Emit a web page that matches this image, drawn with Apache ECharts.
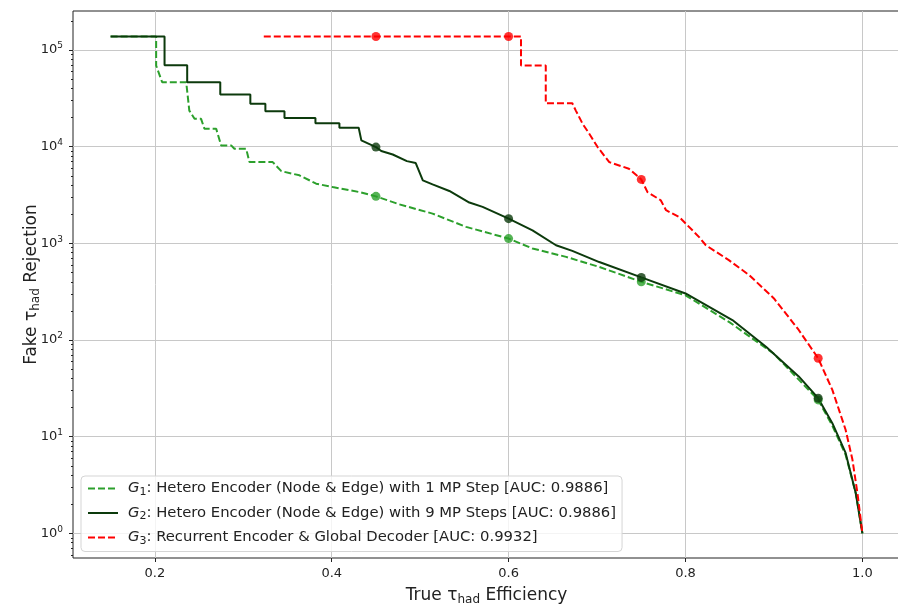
<!DOCTYPE html>
<html>
<head>
<meta charset="utf-8">
<script src="https://cdn.jsdelivr.net/npm/echarts@6/dist/echarts.min.js"></script>
<style>
    html, body { margin: 0; padding: 0; background: #fff; }
    #chart { width: 898px; height: 605px; }
</style>
</head>
<body>
<div id="chart"></div>
<script>
// values: [efficiency, rejection]
var g1Curve = [
    [0.15, 1.38e5], [0.2015, 1.38e5], [0.2015, 6.9e4], [0.2083, 4.64e4], [0.2355, 4.64e4],
    [0.239, 2.36e4], [0.2449, 1.94e4], [0.2523, 1.94e4], [0.2561, 1.53e4], [0.2694, 1.53e4],
    [0.275, 1.03e4], [0.2863, 1.03e4], [0.29, 9.5e3], [0.3033, 9.5e3], [0.307, 6.92e3],
    [0.3333, 6.92e3], [0.343, 5.58e3], [0.3635, 5.05e3],
    [0.3824, 4.14e3], [0.401, 3.82e3], [0.4313, 3.39e3], [0.45, 3.06e3], [0.4765, 2.53e3],
    [0.514, 2.03e3], [0.5519, 1.48e3], [0.6, 1.12e3], [0.627, 884], [0.665, 724],
    [0.7025, 570], [0.75, 400], [0.8, 290], [0.85, 152], [0.9, 72], [0.95, 24],
    [0.966, 13], [0.981, 6.5], [0.9925, 2.6], [1.0, 1.0]
];
var g2Curve = [
    [0.15, 1.38e5], [0.211, 1.38e5], [0.211, 6.93e4], [0.2366, 6.93e4], [0.2366, 4.64e4],
    [0.274, 4.64e4], [0.274, 3.46e4], [0.308, 3.46e4], [0.308, 2.77e4], [0.325, 2.77e4],
    [0.325, 2.32e4], [0.3466, 2.32e4], [0.3466, 1.98e4], [0.3816, 1.98e4], [0.3816, 1.75e4],
    [0.4087, 1.75e4], [0.4087, 1.57e4], [0.4305, 1.57e4], [0.4335, 1.16e4], [0.45, 9.9e3],
    [0.456, 9.0e3], [0.469, 8.3e3], [0.485, 7.08e3], [0.495, 6.76e3], [0.503, 4.48e3],
    [0.514, 4.07e3], [0.533, 3.48e3], [0.5556, 2.64e3], [0.5706, 2.38e3], [0.6, 1.8e3],
    [0.627, 1.36e3], [0.6536, 955], [0.672, 836], [0.7025, 640], [0.75, 444],
    [0.8, 303], [0.853, 161], [0.891, 85], [0.928, 42], [0.95, 25],
    [0.966, 13.8], [0.981, 6.8], [0.9925, 2.6], [1.0, 1.0]
];
var g3Curve = [
    [0.3232, 1.38e5], [0.614, 1.38e5], [0.614, 6.9e4], [0.642, 6.9e4], [0.642, 2.81e4],
    [0.672, 2.81e4], [0.676, 2.36e4], [0.6837, 1.72e4], [0.6912, 1.36e4], [0.7006, 9.9e3],
    [0.7138, 6.92e3], [0.736, 5.91e3], [0.75, 4.58e3], [0.757, 3.39e3], [0.772, 2.79e3],
    [0.778, 2.2e3], [0.793, 1.87e3], [0.8154, 1.16e3], [0.823, 955], [0.849, 670],
    [0.872, 469], [0.9, 269], [0.928, 127], [0.95, 64.7], [0.966, 30.5],
    [0.981, 11.8], [0.9887, 5.8], [0.9944, 2.6], [1.0, 1.0]
];
var g1Marks = [[0.45, 3.06e3], [0.6, 1.12e3], [0.75, 400], [0.95, 24]];
var g2Marks = [[0.45, 9.9e3], [0.6, 1.8e3], [0.75, 444], [0.95, 25]];
var g3Marks = [[0.45, 1.38e5], [0.6, 1.38e5], [0.75, 4.58e3], [0.95, 64.7]];

var seriesNames = [
    '{i|G}{sub|1}: Hetero Encoder (Node & Edge) with 1 MP Step [AUC: 0.9886]',
    '{i|G}{sub|2}: Hetero Encoder (Node & Edge) with 9 MP Steps [AUC: 0.9886]',
    '{i|G}{sub|3}: Recurrent Encoder & Global Decoder [AUC: 0.9932]'
];
var colors = ['#2ca02c', '#0c3a0c', '#ff0000'];
var xTicks = [0.2, 0.4, 0.6, 0.8, 1.0];
var yTicks = [1, 10, 100, 1000, 10000, 100000];
var yMinorTicks = [];
for (var d = 0.1; d < 1e6; d *= 10) {
    for (var m = 2; m <= 9; m++) {
        var v = Math.round(d * m * 1000) / 1000;
        if (v > 0.556 && v < 2.5e5) yMinorTicks.push(v);
    }
}

var FONT = 'DejaVu Sans';
var dashed = [7, 3];

function lineSeries(idx, data, dash) {
    return {
        name: seriesNames[idx],
        type: 'line',
        data: data,
        symbol: 'none',
        color: colors[idx],
        lineStyle: { color: colors[idx], width: 2, type: dash ? dashed : 'solid' },
        z: 3 + idx,
        animation: false
    };
}

function markSeries(idx, data) {
    return {
        type: 'scatter',
        data: data,
        symbol: 'circle',
        symbolSize: 9,
        itemStyle: { color: colors[idx] },
        z: 6 + idx,
        animation: false
    };
}

var chart = echarts.init(document.getElementById('chart'));
chart.setOption({
    backgroundColor: '#fff',
    textStyle: { fontFamily: FONT },
    grid: {
        left: 73, top: 11, right: -2, bottom: 47,
        outerBoundsMode: 'none',
        containLabel: false,
        show: true, borderColor: '#222', borderWidth: 1
    },
    legend: {
        orient: 'vertical',
        left: 81, top: 476,
        data: seriesNames,
        itemWidth: 30, itemHeight: 15, itemGap: 8,
        padding: [5, 6, 5, 6],
        backgroundColor: 'rgba(255,255,255,0.8)',
        borderColor: '#d5d5d5', borderWidth: 1, borderRadius: 4,
        itemStyle: { opacity: 0 },
        textStyle: {
            fontFamily: FONT, fontSize: 14.8, color: '#222',
            padding: [0, 0, 0, 5],
            rich: {
                i: { fontFamily: FONT, fontSize: 14.8, fontStyle: 'italic', color: '#222' },
                sub: { fontFamily: FONT, fontSize: 11, color: '#222', padding: [7, 0, 0, 0] }
            }
        }
    },
    xAxis: {
        type: 'value',
        min: 0.1075, max: 1.0425,
        name: 'True τ{sub|had} Efficiency',
        nameLocation: 'middle',
        nameGap: 28,
        nameMoveOverlap: false,
        nameTextStyle: {
            fontFamily: FONT, fontSize: 17, color: '#222',
            rich: { sub: { fontFamily: FONT, fontSize: 12, color: '#222', padding: [8, 0, 0, 0] } }
        },
        axisLine: { show: false },
        axisTick: { show: true, length: 4, lineStyle: { color: '#222' }, customValues: xTicks },
        axisLabel: {
            customValues: xTicks,
            margin: 9, fontSize: 13, color: '#222', fontFamily: FONT,
            formatter: function (v) { return v.toFixed(1); }
        },
        splitLine: { show: true, lineStyle: { color: '#c8c8c8', width: 1 } }
    },
    yAxis: [{
        type: 'log',
        logBase: 10,
        min: 0.556, max: 2.53e5,
        name: 'Fake τ{sub|had} Rejection',
        nameLocation: 'middle',
        nameGap: 31,
        nameMoveOverlap: false,
        nameRotate: 90,
        nameTextStyle: {
            fontFamily: FONT, fontSize: 17, color: '#222',
            rich: { sub: { fontFamily: FONT, fontSize: 12, color: '#222', padding: [8, 0, 0, 0] } }
        },
        axisLine: { show: false },
        axisTick: { show: true, length: 4, lineStyle: { color: '#222' }, customValues: yTicks },
        axisLabel: {
            customValues: yTicks,
            margin: 10, fontSize: 13, color: '#222', fontFamily: FONT,
            formatter: function (v) {
                return '{b|10}{sup|' + Math.round(Math.log10(v)) + '}';
            },
            rich: {
                b: { fontFamily: FONT, fontSize: 13, color: '#222' },
                sup: { fontFamily: FONT, fontSize: 9, color: '#222', padding: [0, 0, 8, 0] }
            }
        },
        splitLine: { show: true, lineStyle: { color: '#c8c8c8', width: 1 } }
    }, {
        type: 'log',
        logBase: 10,
        position: 'left',
        min: 0.556, max: 2.53e5,
        axisLine: { show: false },
        axisTick: { show: true, length: 2, lineStyle: { color: '#222' }, customValues: yMinorTicks },
        axisLabel: { show: false },
        splitLine: { show: false }
    }],
    series: [
        lineSeries(0, g1Curve, true),
        lineSeries(1, g2Curve, false),
        lineSeries(2, g3Curve, true),
        markSeries(0, g1Marks),
        markSeries(1, g2Marks),
        markSeries(2, g3Marks)
    ]
});
</script>
</body>
</html>
